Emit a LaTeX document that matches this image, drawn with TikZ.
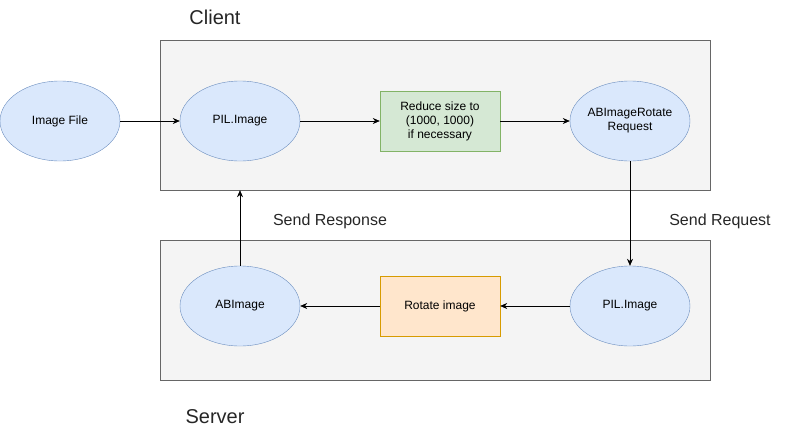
\documentclass[tikz,border=0pt]{standalone}
\usepackage{fontspec}
\setmainfont{Liberation Sans}
\usetikzlibrary{arrows.meta, shapes.geometric, positioning}

\definecolor{datafill}{HTML}{DAE8FC}
\definecolor{datadraw}{HTML}{6C8EBF}
\definecolor{greenfill}{HTML}{D5E8D4}
\definecolor{greendraw}{HTML}{82B366}
\definecolor{orangefill}{HTML}{FFE6CC}
\definecolor{orangedraw}{HTML}{D79B00}
\definecolor{groupfill}{HTML}{F4F4F4}
\definecolor{groupdraw}{HTML}{666666}

\begin{document}
\begin{tikzpicture}[x=1pt, y=-1pt, >={Stealth[length=7pt, width=6pt]},
  datanode/.style={ellipse, draw=datadraw, fill=datafill, minimum width=120pt,
    minimum height=80pt, inner sep=0pt, align=center, font=\fontsize{12}{14}\selectfont},
  procbox/.style={rectangle, minimum width=120pt, minimum height=60pt, inner sep=0pt,
    align=center, font=\fontsize{12}{14}\selectfont},
  groupbox/.style={rectangle, draw=groupdraw, fill=groupfill, minimum width=550pt,
    minimum height=150pt, inner sep=0pt},
  lbl/.style={font=\fontsize{16}{19}\selectfont, text=black!85},
  biglbl/.style={font=\fontsize{20}{24}\selectfont, text=black!85}]

\useasboundingbox (0,0) rectangle (801,431);

% -------------------------------------------------------
% 1. Client and Server containers
% -------------------------------------------------------
\node[groupbox] (client) at (435,115) {};
\node[groupbox, minimum height=140pt] (server) at (435,310) {};

\node[biglbl] (clientlbl) at (215,17) {Client};
\node[biglbl] (serverlbl) at (215,417) {Server};

% -------------------------------------------------------
% 2. Client side
% -------------------------------------------------------
\node[datanode] (imgfile) at (60,121) {Image File};
\node[datanode] (pilc) at (240,121) {PIL.Image};
\node[procbox, draw=greendraw, fill=greenfill] (reduce) at (440,121)
  {Reduce size to\\(1000, 1000)\\if necessary};
\node[datanode] (rotreq) at (630,121) {ABImageRotate\\Request};

% -------------------------------------------------------
% 3. Server side
% -------------------------------------------------------
\node[datanode] (pils) at (630,306) {PIL.Image};
\node[procbox, draw=orangedraw, fill=orangefill] (rotate) at (440,306) {Rotate image};
\node[datanode] (abimg) at (240,306) {ABImage};

% -------------------------------------------------------
% 4. Arrows
% -------------------------------------------------------
\draw[->, semithick] (imgfile) -- (pilc);
\draw[->, semithick] (pilc) -- (reduce);
\draw[->, semithick] (reduce) -- (rotreq);
\draw[->, semithick] (rotreq) -- (pils);
\draw[->, semithick] (pils) -- (rotate);
\draw[->, semithick] (rotate) -- (abimg);
\draw[->, semithick] (abimg) -- (abimg |- client.south);

\node[lbl] (reqlbl) at (720,221) {Send Request};
\node[lbl] (resplbl) at (330,221) {Send Response};

\end{tikzpicture}
\end{document}
